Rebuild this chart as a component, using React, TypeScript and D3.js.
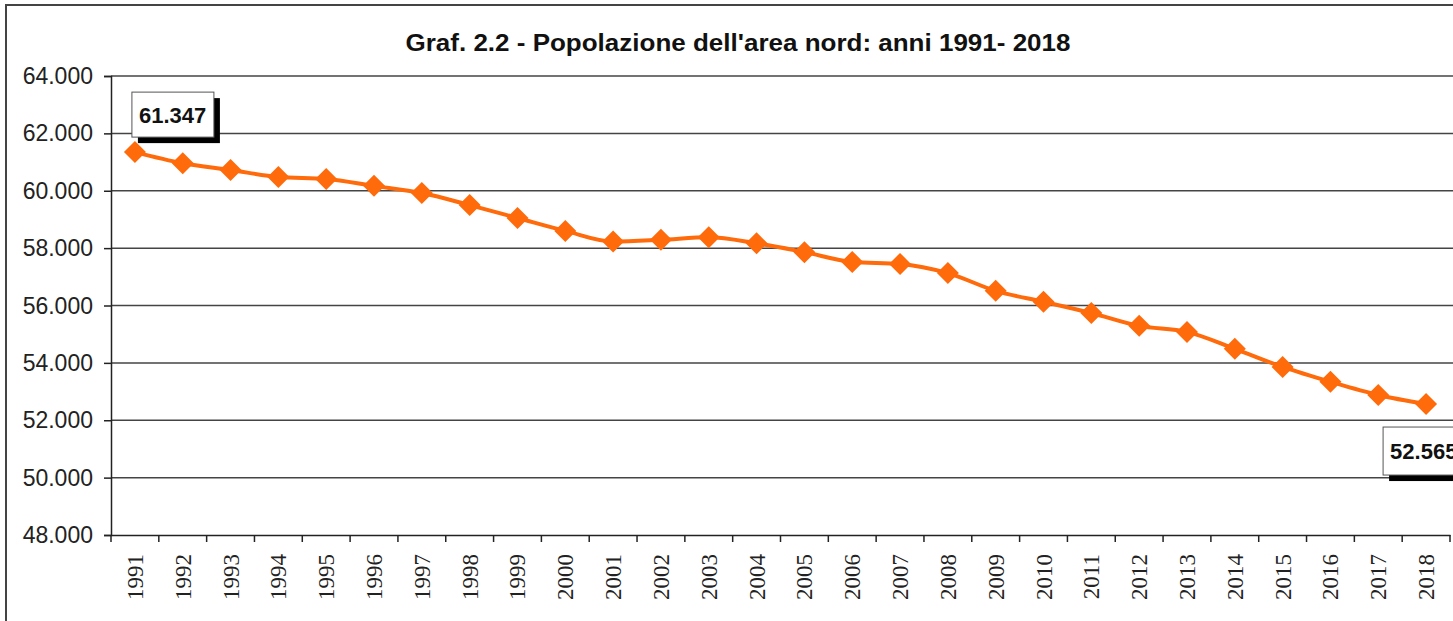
import { useEffect, useRef } from "react";
import * as d3 from "d3";

const years = [
  "1991", "1992", "1993", "1994", "1995", "1996", "1997", "1998", "1999", "2000",
  "2001", "2002", "2003", "2004", "2005", "2006", "2007", "2008", "2009", "2010",
  "2011", "2012", "2013", "2014", "2015", "2016", "2017", "2018",
];
const population = [
  61347, 60960, 60725, 60480, 60410, 60170, 59920, 59500, 59050, 58600,
  58230, 58290, 58380, 58170, 57860, 57520, 57450, 57130, 56510, 56130,
  55740, 55290, 55080, 54490, 53860, 53340, 52880, 52565,
];
const yTicks = [48000, 50000, 52000, 54000, 56000, 58000, 60000, 62000, 64000];
const labelledYears = ["1991", "2018"];

const W = 1453;
const H = 621;
const margin = { left: 111, top: 76, right: 3, bottom: 86 };
const fmt = (v: number) => d3.format(",")(v).replace(/,/g, ".");
const sans = "Liberation Sans, Arial, sans-serif";

const App = () => {
  const svgRef = useRef<SVGSVGElement>(null);

  useEffect(() => {
    const svg = d3.select(svgRef.current);
    svg.selectAll("*").remove();

    const x = d3.scaleBand().domain(years).range([margin.left, W - margin.right]);
    const y = d3.scaleLinear().domain([48000, 64000]).range([H - margin.bottom, margin.top]);

    // outer chart frame
    svg.append("rect").attr("x", 6).attr("y", 5).attr("width", W).attr("height", H)
      .attr("fill", "none").attr("stroke", "#444").attr("stroke-width", 2);

    svg.append("text")
      .attr("x", 738).attr("y", 51)
      .attr("text-anchor", "middle")
      .attr("font-family", sans)
      .attr("font-weight", "bold").attr("font-size", 23)
      .attr("textLength", 665).attr("lengthAdjust", "spacingAndGlyphs")
      .attr("fill", "#111")
      .text("Graf. 2.2 - Popolazione dell'area nord: anni 1991- 2018");

    // gridlines
    svg.append("g").selectAll("line").data(yTicks.slice(1)).join("line")
      .attr("x1", margin.left).attr("x2", W)
      .attr("y1", (d) => y(d)).attr("y2", (d) => y(d))
      .attr("stroke", "#444").attr("stroke-width", 1.5);

    // y axis
    const yAxis = svg.append("g").attr("transform", `translate(${margin.left},0)`)
      .call(d3.axisLeft(y).tickValues(yTicks).tickFormat(() => "").tickSize(7));
    yAxis.select(".domain").attr("stroke", "#222").attr("stroke-width", 1.5);
    yAxis.selectAll(".tick line").attr("stroke", "#222").attr("stroke-width", 1.5);
    svg.append("g").selectAll("text").data(yTicks).join("text")
      .attr("x", 93).attr("y", (d) => y(d) + 8)
      .attr("text-anchor", "end")
      .attr("font-family", sans).attr("font-size", 23).attr("fill", "#222")
      .text((d) => fmt(d));

    // x axis
    const xAxis = svg.append("g").attr("transform", `translate(0,${y(48000)})`)
      .call(d3.axisBottom(x).tickSize(0).tickFormat(() => ""));
    xAxis.select(".domain").attr("stroke", "#222").attr("stroke-width", 1.5);
    svg.append("g").selectAll("line").data([...years.map((d) => x(d)!), W - margin.right]).join("line")
      .attr("x1", (d) => d).attr("x2", (d) => d)
      .attr("y1", y(48000)).attr("y2", y(48000) + 7)
      .attr("stroke", "#222").attr("stroke-width", 1.5);
    svg.append("g").selectAll("text").data(years).join("text")
      .attr("transform", (d) => `translate(${x(d)! + x.bandwidth() / 2 + 8},${y(48000) + 19}) rotate(-90)`)
      .attr("text-anchor", "end")
      .attr("font-family", "Liberation Serif, Times New Roman, serif")
      .attr("font-size", 23).attr("fill", "#222")
      .text((d) => d);

    const cx = (i: number) => x(years[i])! + x.bandwidth() / 2;

    svg.append("path")
      .datum(population)
      .attr("fill", "none").attr("stroke", "#ff6a0a").attr("stroke-width", 4)
      .attr("stroke-linejoin", "round")
      .attr("d", d3.line<number>().x((_, i) => cx(i)).y((d) => y(d)).curve(d3.curveMonotoneX));

    svg.append("g").selectAll("path").data(population).join("path")
      .attr("transform", (d, i) => `translate(${cx(i)},${y(d)})`)
      .attr("d", "M0,-11L11,0L0,11L-11,0Z")
      .attr("fill", "#ff6a0a");

    // data labels
    labelledYears.forEach((yr) => {
      const i = years.indexOf(yr);
      const px = cx(i);
      const py = y(population[i]);
      const first = i === 0;
      const bx = first ? px - 3 : px - 43;
      const by = first ? py - 60 : py + 23;
      const bw = 82;
      const bh = first ? 45 : 48;
      const g = svg.append("g");
      g.append("rect").attr("x", bx + 6).attr("y", by + 6).attr("width", bw).attr("height", bh).attr("fill", "#000");
      g.append("rect").attr("x", bx).attr("y", by).attr("width", bw).attr("height", bh)
        .attr("fill", "#fff").attr("stroke", "#555").attr("stroke-width", 1);
      g.append("text").attr("x", bx + 7).attr("y", by + bh / 2 + 8)
        .attr("font-family", sans)
        .attr("font-weight", "bold").attr("font-size", 22).attr("fill", "#111")
        .text(fmt(population[i]));
    });
  }, []);

  return (
    <svg ref={svgRef} width={W} height={H}
      style={{ position: "absolute", left: 0, top: 0, background: "#fff" }} />
  );
};

export default App;
